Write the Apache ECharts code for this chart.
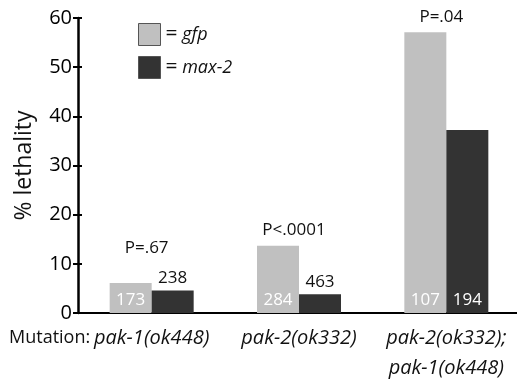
<!DOCTYPE html>
<html>
<head>
<meta charset="utf-8">
<script src="https://cdn.jsdelivr.net/npm/echarts@6/dist/echarts.min.js"></script>
<style>
html, body { margin: 0; padding: 0; background: #fff; }
#chart { width: 517px; height: 379px; }
</style>
</head>
<body>
<div id="chart"></div>
<script>
// values
const categories = ['pak-1(ok448)', 'pak-2(ok332)', 'pak-2(ok332);\npak-1(ok448)']
const gfpLethality = [6.1, 13.7, 57.1]
const max2Lethality = [4.6, 3.8, 37.2]
const gfpCounts = [173, 284, 107]
const max2Counts = [238, 463, 194]
const pValues = ['P=.67', 'P<.0001', 'P=.04']

const FONT = '"Open Sans", "Noto Sans", sans-serif'
const INK = '#111'
const chart = echarts.init(document.getElementById('chart'))

// count label goes on top of the bar when the bar is too short to hold it
const shortBar = v => v < 5

const option = {
    backgroundColor: '#fff',
    animation: false,
    textStyle: { fontFamily: FONT, color: INK },
    grid: {
        left: 78,
        top: 18,
        width: 442,
        bottom: 66,
        containLabel: false,
        outerBoundsMode: 'none'
    },
    legend: {
        orient: 'vertical',
        left: 133,
        top: 18,
        itemWidth: 22,
        itemHeight: 22,
        itemGap: 10,
        icon: 'rect',
        data: ['gfp', 'max-2'],
        itemStyle: { borderColor: '#555', borderWidth: 1 },
        formatter: name => '{e|=} {i|' + name + '}',
        textStyle: {
            fontSize: 18,
            color: INK,
            rich: {
                e: { fontSize: 21, color: INK, fontFamily: FONT },
                i: { fontStyle: 'italic', fontSize: 18, color: INK, fontFamily: FONT }
            }
        }
    },
    graphic: [{
        type: 'text',
        left: 9,
        top: 329,
        style: { text: 'Mutation:', fontSize: 18, fill: INK, fontFamily: FONT }
    }],
    xAxis: {
        type: 'category',
        data: categories,
        axisTick: { show: false },
        axisLine: { lineStyle: { color: '#000', width: 2 } },
        axisLabel: {
            interval: 0,
            margin: 10,
            fontSize: 20,
            fontStyle: 'italic',
            lineHeight: 30,
            color: INK,
            fontFamily: FONT
        }
    },
    yAxis: [{
        type: 'value',
        min: 0,
        max: 60,
        interval: 10,
        name: '% lethality',
        nameLocation: 'middle',
        nameGap: 42,
        nameTextStyle: { fontSize: 23, color: INK, fontFamily: FONT },
        splitLine: { show: false },
        axisLine: { show: true, lineStyle: { color: '#000', width: 2.5 } },
        axisTick: { show: true, length: 5, lineStyle: { color: '#000', width: 2 } },
        axisLabel: { show: true, fontSize: 20, color: '#000', fontFamily: FONT, margin: 6 }
    }, {
        // inner half of the crossing ticks
        type: 'value',
        position: 'left',
        min: 0,
        max: 60,
        interval: 10,
        splitLine: { show: false },
        axisLine: { show: false },
        axisLabel: { show: false },
        axisTick: { show: true, inside: true, length: 4, lineStyle: { color: '#000', width: 2 } }
    }],
    series: [{
        name: 'gfp',
        type: 'bar',
        barWidth: 42,
        barGap: '0%',
        data: gfpLethality.map((v, i) => ({
            value: v,
            label: {
                show: true,
                formatter: String(gfpCounts[i]),
                position: shortBar(v) ? 'top' : 'insideBottom',
                distance: 4,
                fontSize: 17,
                fontFamily: FONT,
                color: shortBar(v) ? INK : '#fff'
            }
        })),
        itemStyle: { color: '#c0c0c0' }
    }, {
        name: 'max-2',
        type: 'bar',
        barWidth: 42,
        data: max2Lethality.map((v, i) => ({
            value: v,
            label: {
                show: true,
                formatter: String(max2Counts[i]),
                position: shortBar(v) ? 'top' : 'insideBottom',
                distance: 4,
                fontSize: 17,
                fontFamily: FONT,
                color: shortBar(v) ? INK : '#fff'
            }
        })),
        itemStyle: { color: '#333333' }
    }, {
        // p-value above each pair
        name: 'p',
        type: 'scatter',
        symbolSize: 0,
        silent: true,
        itemStyle: { opacity: 1 },
        data: pValues.map((p, i) => ({
            value: [i, gfpLethality[i]],
            label: {
                show: true,
                position: 'top',
                offset: [-5, 0],
                formatter: p,
                fontSize: 17,
                fontFamily: FONT,
                color: INK,
                opacity: 1,
                distance: shortBar(max2Lethality[i]) && max2Lethality[i] > gfpLethality[i] - 3 ? 26 : 7
            }
        }))
    }]
}

chart.setOption(option)
</script>
</body>
</html>
